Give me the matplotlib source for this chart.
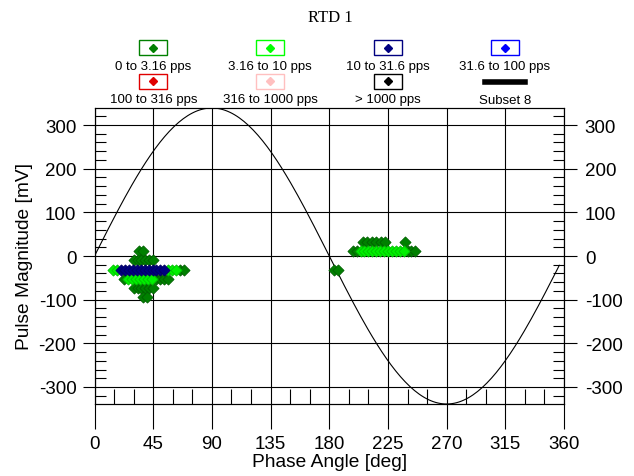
"""RTD 1 -- phase resolved pulse magnitude plot."""

import numpy as np
import matplotlib
matplotlib.use("Agg")
import matplotlib.pyplot as plt
from matplotlib.patches import Rectangle
from matplotlib.lines import Line2D

plt.rcParams["font.family"] = ["Liberation Sans", "DejaVu Sans"]
plt.rcParams["axes.unicode_minus"] = False

W, H = 634, 477

# pulse data per rate class: phase [deg], magnitude [mV]
dgreen_phase = [33.8, 37.0,
                30, 33, 36, 39, 42, 45,
                65.5, 68.5,
                23, 47, 50, 53, 56,
                30, 33, 36, 39, 42, 45,
                37, 40,
                184, 187,
                205.5, 209, 212.5, 216, 219.5, 223, 238,
                198, 201, 240, 243, 245.5]
dgreen_mag = [11, 11,
              -10, -10, -10, -10, -10, -10,
              -31, -31,
              -52, -52, -52, -52, -52,
              -73, -73, -73, -73, -73, -73,
              -94, -94,
              -31, -31,
              33, 33, 33, 33, 33, 33, 33,
              11, 11, 11, 11, 11]

lgreen_phase = [14.5, 17.5, 56.5, 59.5, 62.5,
                26, 29, 32, 35, 38, 41, 44,
                204, 207, 210, 213, 216, 219, 222, 225, 228, 231, 234, 237]
lgreen_mag = [-31, -31, -31, -31, -31,
              -52, -52, -52, -52, -52, -52, -52,
              11, 11, 11, 11, 11, 11, 11, 11, 11, 11, 11, 11]

navy_phase = [20.5, 23.5, 26.5, 29.5, 32.5, 35.5, 38.5, 41.5, 44.5, 47.5, 50.5, 53.5]
navy_mag = [-31] * 12

legend_labels = ["0 to 3.16 pps", "3.16 to 10 pps", "10 to 31.6 pps", "31.6 to 100 pps",
                 "100 to 316 pps", "316 to 1000 pps", "> 1000 pps", "Subset 8"]
legend_colors = ["#008000", "#00ff00", "#000080", "#0000ff",
                 "#e00000", "#ffc0c0", "#000000", "#000000"]

amp = 339.0  # reference sine amplitude = axis limit

fig = plt.figure(figsize=(W / 100, H / 100), dpi=100)


def fx(px):
    return px / W


def fy(py):
    return 1 - py / H


ax = fig.add_axes([fx(94.5), fy(405), fx(564) - fx(94.5), fy(109) - fy(405)])
ax.set_xlim(0, 360)
ax.set_ylim(-amp, amp)

ph = np.linspace(0, 356.4, 200)
ax.plot(ph, amp * np.sin(np.radians(ph)), color="black", lw=0.8, zorder=2)

kw = dict(marker="D", s=32, linewidths=0.6, zorder=3)
ax.scatter(dgreen_phase, dgreen_mag, color="#008000", edgecolors="#006000", **kw)
ax.scatter(lgreen_phase, lgreen_mag, color="#00f000", edgecolors="#00c000", **kw)
ax.scatter(navy_phase, navy_mag, color="#000080", edgecolors="#000060", **kw)

yt = np.arange(-300, 301, 100)
ymt = np.arange(-320, 321, 20)
ax.set_xticks(np.arange(0, 361, 45))
ax.set_xticks(np.arange(0, 361, 15), minor=True)
ax.set_yticks(yt)
ax.set_yticks(ymt, minor=True)
ax.grid(True, which="major", color="black", lw=0.8)
ax.tick_params(axis="x", which="major", direction="out", length=18, width=0.8,
               labelsize=13.5, pad=4)
ax.tick_params(axis="x", which="minor", direction="in", length=11, width=0.8)
ax.tick_params(axis="y", which="major", direction="out", length=9, width=0.8,
               labelsize=13.5, pad=4)
ax.tick_params(axis="y", which="minor", direction="in", length=8, width=0.8)
for s in ax.spines.values():
    s.set_linewidth(0.8)

ax2 = ax.twinx()
ax2.set_ylim(ax.get_ylim())
ax2.set_yticks(yt)
ax2.set_yticks(ymt, minor=True)
ax2.tick_params(axis="y", which="major", direction="out", length=9, width=0.8,
                labelsize=13.5, pad=6)
ax2.tick_params(axis="y", which="minor", direction="in", length=8, width=0.8)
ax2.spines["right"].set_linewidth(0.8)

ax.set_xlabel("Phase Angle [deg]", fontsize=13.8, labelpad=1)
ax.set_ylabel("Pulse Magnitude [mV]", fontsize=13.8)
ax.yaxis.set_label_coords(-0.13, 0.5)

fig.text(fx(330), fy(18), "RTD 1", family="Liberation Serif", fontsize=12,
         ha="center", va="center")

# legend: 4 columns x 2 rows, boxed marker with label below
col_x = [153.3, 270, 387.5, 504.7]
row_y = [48.5, 82]
for i, (lab, c) in enumerate(zip(legend_labels, legend_colors)):
    cx, cy = col_x[i % 4], row_y[i // 4]
    if lab == "Subset 8":
        fig.add_artist(Line2D([fx(cx - 20), fx(cx + 20)], [fy(cy + 1), fy(cy + 1)],
                              color="black", lw=4, transform=fig.transFigure))
    else:
        fig.add_artist(Rectangle((fx(cx - 14), fy(cy + 7.5)), fx(28), 15 / H,
                                 facecolor="white", edgecolor=c, lw=1,
                                 transform=fig.transFigure))
        fig.add_artist(Line2D([fx(cx)], [fy(cy)], marker="D", ms=4.5, color=c,
                              transform=fig.transFigure))
    fig.text(fx(cx), fy(cy + 18.5), lab, fontsize=9.5, ha="center", va="center")

fig.savefig("out.png", dpi=100)
